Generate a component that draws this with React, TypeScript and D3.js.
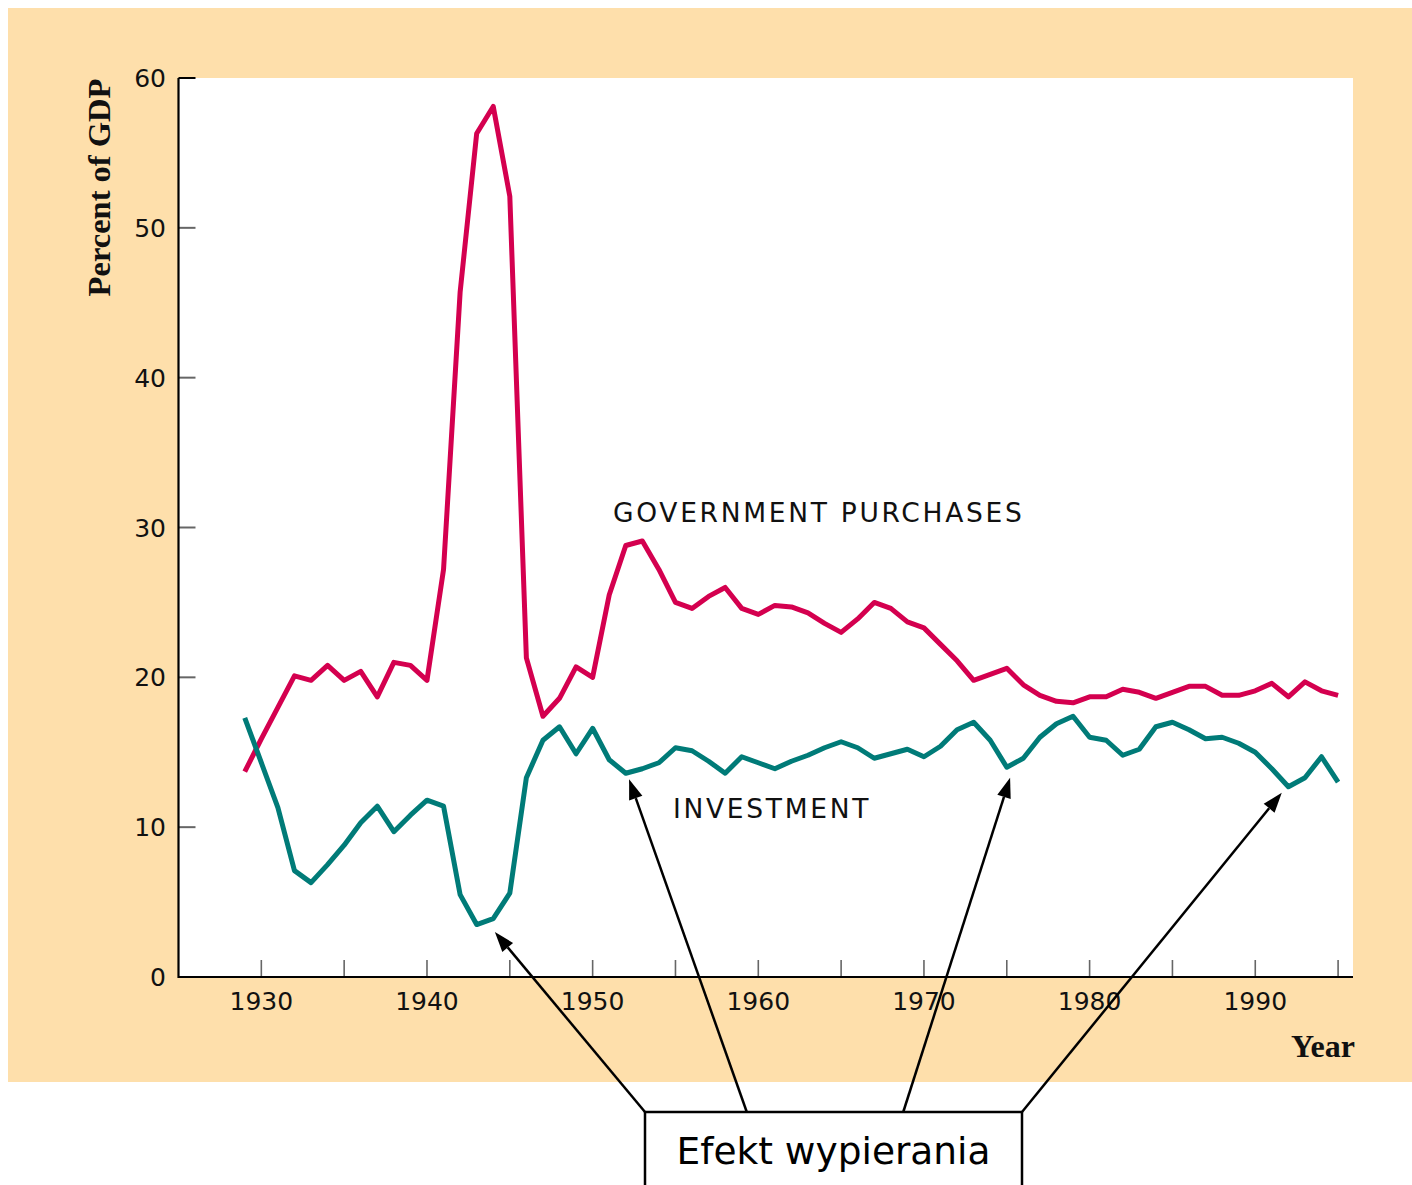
import * as d3 from 'd3';
import { useEffect, useRef } from 'react';

// years 1929..1995
const firstYear = 1929;
const governmentPurchases = [
  13.7, 15.9, 18.0, 20.1, 19.8, 20.8, 19.8, 20.4, 18.7, 21.0, 20.8,
  19.8, 27.2, 45.7, 56.3, 58.1, 52.1, 21.3, 17.4, 18.6, 20.7, 20.0,
  25.5, 28.8, 29.1, 27.2, 25.0, 24.6, 25.4, 26.0, 24.6, 24.2, 24.8,
  24.7, 24.3, 23.6, 23.0, 23.9, 25.0, 24.6, 23.7, 23.3, 22.2, 21.1,
  19.8, 20.2, 20.6, 19.5, 18.8, 18.4, 18.3, 18.7, 18.7, 19.2, 19.0,
  18.6, 19.0, 19.4, 19.4, 18.8, 18.8, 19.1, 19.6, 18.7, 19.7, 19.1, 18.8,
];
const investment = [
  17.3, 14.3, 11.3, 7.1, 6.3, 7.5, 8.8, 10.3, 11.4, 9.7, 10.8,
  11.8, 11.4, 5.5, 3.5, 3.9, 5.6, 13.3, 15.8, 16.7, 14.9, 16.6,
  14.5, 13.6, 13.9, 14.3, 15.3, 15.1, 14.4, 13.6, 14.7, 14.3, 13.9,
  14.4, 14.8, 15.3, 15.7, 15.3, 14.6, 14.9, 15.2, 14.7, 15.4, 16.5,
  17.0, 15.8, 14.0, 14.6, 16.0, 16.9, 17.4, 16.0, 15.8, 14.8, 15.2,
  16.7, 17.0, 16.5, 15.9, 16.0, 15.6, 15.0, 13.9, 12.7, 13.3, 14.7, 13.0,
];
const yTicks = [0, 10, 20, 30, 40, 50, 60];
const xLabelTicks = [1930, 1940, 1950, 1960, 1970, 1980, 1990];
const xMinorTicks = [1930, 1935, 1940, 1945, 1950, 1955, 1960, 1965, 1970, 1975, 1980, 1985, 1990, 1995];
// arrow tips in data coordinates (year, percent)
const arrowTargets: [number, number][] = [
  [1944.1, 3.0],
  [1952.2, 13.2],
  [1975.2, 13.3],
  [1991.6, 12.3],
];
// where each arrow leaves the top of the label box (fraction along box width)
const arrowStarts = [0, 0.27, 0.685, 1];

export default function App() {
  const svgRef = useRef<SVGSVGElement | null>(null);

  useEffect(() => {
    if (!svgRef.current) return;
    const W = 1412;
    const H = 1185;
    const svg = d3.select(svgRef.current).html('').attr('width', W).attr('height', H);

    const left = 178.5, right = 1353, top = 78, bottom = 977;
    const x = d3.scaleLinear().domain([1925, 1995.9]).range([left, right]);
    const y = d3.scaleLinear().domain([0, 60]).range([bottom, top]);

    svg.append('rect').attr('x', 0).attr('y', 0).attr('width', W).attr('height', H).attr('fill', '#fff');
    svg.append('rect').attr('x', 8).attr('y', 8).attr('width', W - 8).attr('height', 1074).attr('fill', '#fedfab');
    svg.append('rect').attr('x', left).attr('y', top).attr('width', right - left).attr('height', bottom - top).attr('fill', '#fff');

    const sans = '"DejaVu Sans", Verdana, sans-serif';
    const serif = '"Liberation Serif", "Times New Roman", serif';

    // ticks
    svg.append('g').selectAll('line').data(yTicks.filter(d => d > 0)).enter().append('line')
      .attr('x1', left).attr('x2', left + 17)
      .attr('y1', d => y(d)).attr('y2', d => y(d))
      .attr('stroke', d => (d === 60 ? '#000' : '#666')).attr('stroke-width', 2);
    svg.append('g').selectAll('line').data(xMinorTicks).enter().append('line')
      .attr('x1', d => x(d)).attr('x2', d => x(d))
      .attr('y1', bottom).attr('y2', bottom - 17)
      .attr('stroke', '#666').attr('stroke-width', 1.6);

    // axes lines
    svg.append('line').attr('x1', left).attr('x2', left).attr('y1', top).attr('y2', bottom + 1)
      .attr('stroke', '#000').attr('stroke-width', 2.2);
    svg.append('line').attr('x1', left).attr('x2', right).attr('y1', bottom).attr('y2', bottom)
      .attr('stroke', '#000').attr('stroke-width', 2.2);

    // tick labels
    svg.append('g').selectAll('text').data(yTicks).enter().append('text')
      .attr('x', 166).attr('y', d => y(d)).attr('dy', '0.36em')
      .attr('text-anchor', 'end').attr('font-family', sans).attr('font-size', 25).attr('fill', '#111')
      .text(d => d);
    svg.append('g').selectAll('text').data(xLabelTicks).enter().append('text')
      .attr('x', d => x(d)).attr('y', 1010)
      .attr('text-anchor', 'middle').attr('font-family', sans).attr('font-size', 25).attr('fill', '#111')
      .text(d => d);

    // axis titles
    svg.append('text')
      .attr('transform', `translate(110, ${(top + 297) / 2}) rotate(-90)`)
      .attr('text-anchor', 'middle').attr('font-family', serif).attr('font-weight', 'bold')
      .attr('font-size', 32.5).attr('fill', '#111').text('Percent of GDP');
    svg.append('text')
      .attr('x', 1355).attr('y', 1057).attr('text-anchor', 'end')
      .attr('font-family', serif).attr('font-weight', 'bold').attr('font-size', 32).attr('fill', '#111')
      .text('Year');

    // series
    const line = d3.line<number>()
      .x((_, i) => x(firstYear + i))
      .y(d => y(d));
    svg.append('path').datum(governmentPurchases).attr('d', line)
      .attr('fill', 'none').attr('stroke', '#d4004f').attr('stroke-width', 5).attr('stroke-linejoin', 'round');
    svg.append('path').datum(investment).attr('d', line)
      .attr('fill', 'none').attr('stroke', '#007b78').attr('stroke-width', 5).attr('stroke-linejoin', 'round');

    // series labels
    svg.append('text').attr('x', 613).attr('y', 522)
      .attr('font-family', sans).attr('font-size', 26.5).attr('letter-spacing', 2.7).attr('fill', '#111')
      .text('GOVERNMENT PURCHASES');
    svg.append('text').attr('x', 673).attr('y', 818)
      .attr('font-family', sans).attr('font-size', 26.5).attr('letter-spacing', 2.7).attr('fill', '#111')
      .text('INVESTMENT');

    // annotation box
    const boxL = 645, boxR = 1022, boxT = 1112;
    svg.append('path')
      .attr('d', `M${boxL},${H + 2}V${boxT}H${boxR}V${H + 2}`)
      .attr('fill', '#fff').attr('stroke', '#000').attr('stroke-width', 2.5);
    svg.append('text').attr('x', (boxL + boxR) / 2).attr('y', 1164)
      .attr('text-anchor', 'middle').attr('font-family', sans).attr('font-size', 37.5).attr('fill', '#000')
      .text('Efekt wypierania');

    // arrows
    arrowTargets.forEach(([yr, v], i) => {
      const x0 = boxL + (boxR - boxL) * arrowStarts[i];
      const y0 = boxT;
      const x1 = x(yr);
      const y1 = y(v);
      const ang = Math.atan2(y1 - y0, x1 - x0);
      const len = 20, half = 7;
      const bx = x1 - len * Math.cos(ang);
      const by = y1 - len * Math.sin(ang);
      svg.append('line').attr('x1', x0).attr('y1', y0).attr('x2', bx).attr('y2', by)
        .attr('stroke', '#000').attr('stroke-width', 2.5);
      const px = -Math.sin(ang) * half, py = Math.cos(ang) * half;
      svg.append('polygon')
        .attr('points', `${x1},${y1} ${bx + px},${by + py} ${bx - px},${by - py}`)
        .attr('fill', '#000');
    });
  }, []);

  return <svg ref={svgRef} style={{ position: 'absolute', left: 0, top: 0, display: 'block' }} />;
}
